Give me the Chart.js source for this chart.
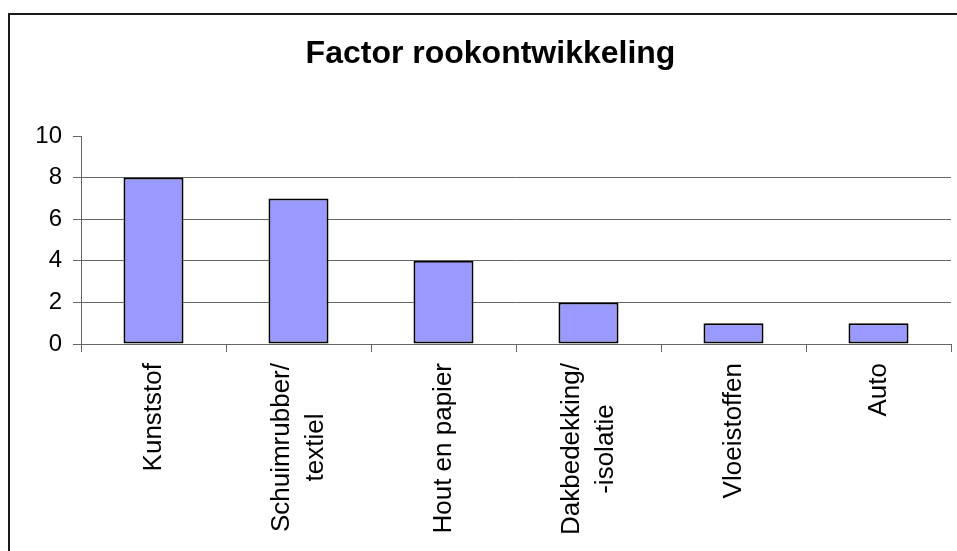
<!DOCTYPE html>
<html>
<head>
<meta charset="utf-8">
<script src="https://cdn.jsdelivr.net/npm/chart.js@4/dist/chart.umd.min.js"></script>
<style>
html, body { margin: 0; padding: 0; background: #fff; }
#wrap { width: 957px; height: 551px; }
</style>
</head>
<body>
<div id="wrap"><canvas id="chart" width="957" height="551"></canvas></div>
<script>
// data
const categories = [['Kunststof'], ['Schuimrubber/', 'textiel'], ['Hout en papier'], ['Dakbedekking/', '-isolatie'], ['Vloeistoffen'], ['Auto']];
const values = [8, 7, 4, 2, 1, 1];
const yMin = 0;
const yMax = 10;
const yStep = 2;
const chartTitle = 'Factor rookontwikkeling';

const FONT = '"Liberation Sans", Arial, sans-serif';
const GRID = '#666';

// white page + the black frame on the left/top edge
const frame = {
    id: 'frame',
    beforeDraw(chart) {
        const ctx = chart.ctx;
        ctx.save();
        ctx.fillStyle = '#fff';
        ctx.fillRect(0, 0, chart.width, chart.height);
        ctx.fillStyle = '#1a1a1a';
        ctx.fillRect(8, 13, chart.width - 8, 2);
        ctx.fillRect(8, 13, 2, chart.height - 13);
        ctx.restore();
    }
};

// rotated category labels, each line centred on its own
const xLabels = {
    id: 'xLabels',
    afterDraw(chart) {
        const x = chart.scales.x;
        const ctx = chart.ctx;
        ctx.save();
        ctx.font = '26px ' + FONT;
        ctx.fillStyle = '#000';
        ctx.textAlign = 'center';
        ctx.textBaseline = 'middle';
        categories.forEach((lines, i) => {
            const cx = x.getPixelForValue(i);
            const longest = Math.max(...lines.map(l => ctx.measureText(l).width));
            const cy = x.top + 19 + longest / 2;
            lines.forEach((line, j) => {
                const off = (j - (lines.length - 1) / 2) * 34;
                ctx.save();
                ctx.translate(cx + off, cy);
                ctx.rotate(-Math.PI / 2);
                ctx.fillText(line, 0, 0);
                ctx.restore();
            });
        });
        ctx.restore();
    }
};

new Chart(document.getElementById('chart'), {
    type: 'bar',
    data: {
        labels: categories.map(l => l.join(' ')),
        datasets: [{
            data: values,
            backgroundColor: '#9999ff',
            borderColor: '#000',
            borderWidth: 2,
            borderSkipped: false,
            barPercentage: 0.414,
            categoryPercentage: 1
        }]
    },
    options: {
        responsive: false,
        animation: false,
        devicePixelRatio: 1,
        layout: { padding: { left: 30, right: 6, top: 0, bottom: 0 } },
        plugins: {
            legend: { display: false },
            tooltip: { enabled: false },
            title: {
                display: true,
                text: chartTitle,
                color: '#000',
                font: { family: FONT, size: 32, weight: 'bold' },
                padding: { top: 35, bottom: 62.6 }
            }
        },
        scales: {
            x: {
                offset: true,
                ticks: { display: false },
                grid: { offset: true, drawOnChartArea: false, drawTicks: true, tickLength: 8, tickColor: GRID },
                border: { color: GRID },
                afterFit(scale) { scale.height = 207; }
            },
            y: {
                min: yMin,
                max: yMax,
                ticks: { stepSize: yStep, color: '#000', padding: 11, font: { family: FONT, size: 24 } },
                grid: {
                    color: c => (c.tick && c.tick.value === yMax) ? 'transparent' : GRID,
                    tickColor: GRID,
                    tickLength: 8
                },
                border: { color: GRID },
                afterFit(scale) { scale.width = 51; }
            }
        }
    },
    plugins: [frame, xLabels]
});
</script>
</body>
</html>
